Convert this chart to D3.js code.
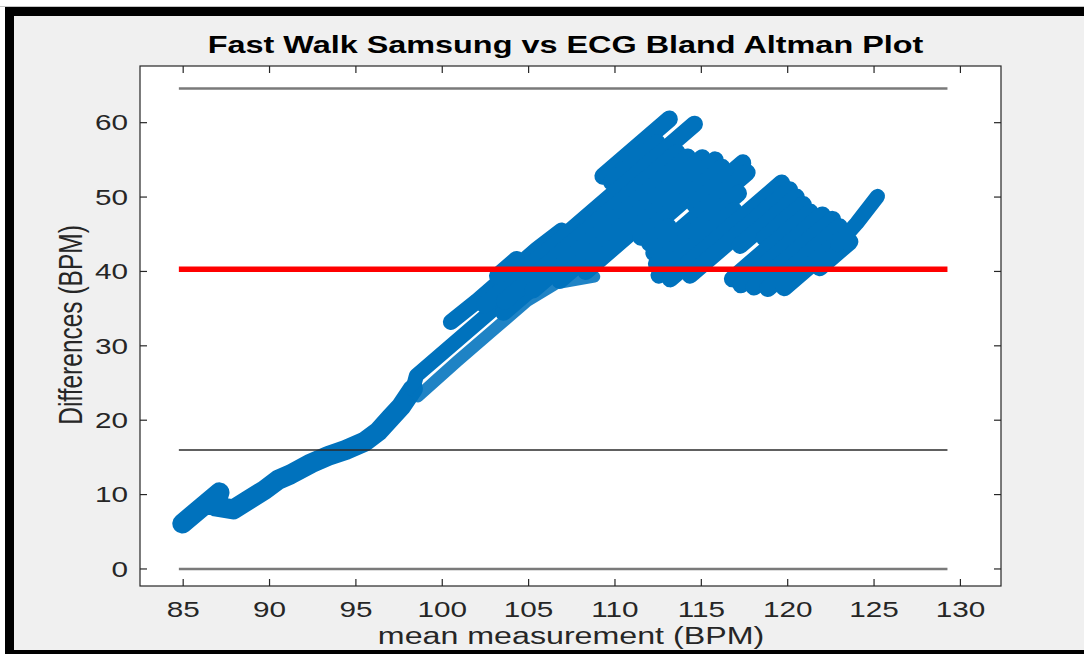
<!DOCTYPE html>
<html><head><meta charset="utf-8">
<script src="https://cdn.jsdelivr.net/npm/d3@7"></script>
<style>
body{margin:0;background:#fff;}
svg{display:block;}
text{font-family:"Liberation Sans",Arial,Helvetica,sans-serif;}
</style>
</head><body>
<svg id="c" width="1084" height="654"></svg>
<script>
// ---------- texts & ticks ----------
const titleText = "Fast Walk Samsung vs ECG Bland Altman Plot";
const xLabel = "mean measurement (BPM)";
const yLabel = "Differences (BPM)";
const xTicks = [85, 90, 95, 100, 105, 110, 115, 120, 125, 130];
const yTicks = [0, 10, 20, 30, 40, 50, 60];

// ---------- reference lines (BPM) ----------
const meanDiff = 40.3;
const lowerLoA = 16.0;
const upperLoA = 64.6;
const zeroLine = 0;
const refLineRange = [84.75, 129.25];

// ---------- scatter trace: [mean, difference] ----------
const lowerBand = [[84.95,6.1],[87.1,10.3],[86.85,8.4],[87.9,8.0],[88.8,9.3],[89.7,10.6],[90.5,12.0],[91.2,12.7],[92.4,14.2],[93.4,15.2],[94.4,16.0],[95.5,17.1],[96.3,18.5],[97.0,20.3],[97.6,21.8],[98.3,24.2]];
const upperBranchA = [[98.3,24.2],[98.5,26.0],[100.5,30.0],[102.5,34.0],[104.5,38.0],[106.3,42.0]];
const upperBranchB = [[100.5,33.2],[102.0,36.0],[103.9,39.8],[105.5,43.0],[106.9,45.5]];
const lowerBranch = [[98.6,23.2],[99.75,25.6],[100.9,28.0],[102.9,32.0],[104.9,36.0],[106.6,38.4],[108.8,39.3]];
const blobStrokes = [
  [[103.55,34.5],[106.3,40.0]],
  [[109.3,52.8],[113.15,60.5]],
  [[109.8,52.0],[112.45,57.3]],
  [[102.45,35.5],[114.6,59.8]],
  [[103.2,39.4],[104.3,41.6]],
  [[103.6,36.0],[113.6,56.0]],
  [[105.25,37.5],[114.2,55.4]],
  [[106.8,38.8],[115.05,55.3]],
  [[108.3,40.0],[115.8,55.0]],
  [[111.5,44.6],[116.2,54.0]],
  [[112.0,43.8],[113.1,46.0]],
  [[114.6,49.0],[117.4,54.6]],
  [[112.25,42.5],[117.65,53.3]],
  [[112.4,41.0],[117.15,50.5]],
  [[112.55,39.5],[116.9,48.2]],
  [[113.2,39.0],[119.65,51.9]],
  [[114.35,39.5],[120.1,51.0]],
  [[117.25,43.5],[120.5,50.0]],
  [[118.65,44.5],[120.9,49.0]],
  [[116.8,39.0],[121.3,48.0]],
  [[117.3,38.2],[122.0,47.6]],
  [[118.05,37.9],[122.6,47.0]],
  [[118.85,37.7],[123.0,46.0]],
  [[119.8,37.8],[123.4,45.0]],
  [[121.85,40.5],[123.6,44.0]]
];
const tail = [[122.9,43.6],[124.0,46.5],[125.2,50.1]];

// ---------- drawing ----------
const W = 1084, H = 654;
const svg = d3.select("#c");
const SX = 1.35; // horizontal stretch of the reference's glyphs

// frame
svg.append("rect").attr("width", W).attr("height", H).attr("fill", "#fff");
svg.append("rect").attr("x", 0).attr("y", 6).attr("width", W).attr("height", 1).attr("fill", "#c4c4c4");
svg.append("rect").attr("x", 5).attr("y", 7).attr("width", W - 5).attr("height", H - 7).attr("fill", "#000");
svg.append("rect").attr("x", 14).attr("y", 16).attr("width", W - 14).attr("height", 650 - 16).attr("fill", "#f0f0f0");

const plot = {l: 140, t: 66, r: 1001, b: 586};
const x = d3.scaleLinear().domain([82.5, 132.35]).range([plot.l, plot.r]);
const y = d3.scaleLinear().domain([-2.29, 67.62]).range([plot.b, plot.t]);

svg.append("rect").attr("x", plot.l).attr("y", plot.t)
  .attr("width", plot.r - plot.l).attr("height", plot.b - plot.t).attr("fill", "#fff");

svg.append("defs").append("clipPath").attr("id", "clip")
  .append("rect").attr("x", plot.l).attr("y", plot.t)
  .attr("width", plot.r - plot.l).attr("height", plot.b - plot.t);

const line = d3.line().x(d => x(d[0])).y(d => y(d[1]));
const dataG = svg.append("g").attr("clip-path", "url(#clip)")
  .attr("fill", "none").attr("stroke", "#0072BD")
  .attr("stroke-linecap", "round").attr("stroke-linejoin", "round");

dataG.append("path").datum(lowerBand).attr("d", line).style("stroke-width", "20px");
dataG.append("path").datum(upperBranchA).attr("d", line).style("stroke-width", "15px");
dataG.append("path").datum(upperBranchB).attr("d", line).style("stroke-width", "16px");
dataG.append("path").datum(lowerBranch).attr("d", line).style("stroke-width", "12px").style("stroke-opacity", 0.88);
dataG.selectAll("path.blob").data(blobStrokes).join("path").attr("class", "blob")
  .attr("d", line).style("stroke-width", "17px");
dataG.append("path").datum(tail).attr("d", line).style("stroke-width", "15px");

// reference lines
const refLines = [
  {v: upperLoA, c: "#7a7a7a", w: 2.5},
  {v: zeroLine, c: "#7a7a7a", w: 2.5},
  {v: lowerLoA, c: "#2b2b2b", w: 1.6},
  {v: meanDiff, c: "#ff0000", w: 5.5}
];
svg.append("g").selectAll("line").data(refLines).join("line")
  .attr("x1", x(refLineRange[0])).attr("x2", x(refLineRange[1]))
  .attr("y1", d => y(d.v)).attr("y2", d => y(d.v))
  .attr("stroke", d => d.c).attr("stroke-width", d => d.w);

// axes box and inward ticks
const axG = svg.append("g").attr("stroke", "#262626").attr("stroke-width", 1.2).attr("fill", "none");
axG.append("rect").attr("x", plot.l).attr("y", plot.t)
  .attr("width", plot.r - plot.l).attr("height", plot.b - plot.t);
const TL = 7;
axG.selectAll("line.xb").data(xTicks).join("line").attr("class", "xb")
  .attr("x1", d => x(d)).attr("x2", d => x(d)).attr("y1", plot.b).attr("y2", plot.b - TL);
axG.selectAll("line.xt").data(xTicks).join("line").attr("class", "xt")
  .attr("x1", d => x(d)).attr("x2", d => x(d)).attr("y1", plot.t).attr("y2", plot.t + TL);
axG.selectAll("line.yl").data(yTicks).join("line").attr("class", "yl")
  .attr("y1", d => y(d)).attr("y2", d => y(d)).attr("x1", plot.l).attr("x2", plot.l + TL);
axG.selectAll("line.yr").data(yTicks).join("line").attr("class", "yr")
  .attr("y1", d => y(d)).attr("y2", d => y(d)).attr("x1", plot.r).attr("x2", plot.r - TL);

// tick labels
svg.append("g").selectAll("text").data(xTicks).join("text")
  .attr("transform", d => `translate(${x(d)},617) scale(${SX},1)`)
  .attr("text-anchor", "middle").attr("font-size", 22).attr("fill", "#262626")
  .text(d => d);
svg.append("g").selectAll("text").data(yTicks).join("text")
  .attr("transform", d => `translate(128,${y(d) + 7.8}) scale(${SX},1)`)
  .attr("text-anchor", "end").attr("font-size", 22).attr("fill", "#262626")
  .text(d => d);

// title and axis labels
svg.append("text").attr("transform", `translate(565.5,53) scale(${SX},1)`)
  .attr("text-anchor", "middle").attr("font-size", 24).attr("font-weight", "bold")
  .attr("fill", "#000").text(titleText);
svg.append("text").attr("transform", `translate(571,643.5) scale(1.4,1)`)
  .attr("text-anchor", "middle").attr("font-size", 23).attr("fill", "#262626").text(xLabel);
svg.append("text").attr("transform", `translate(81.7,325) rotate(-90) scale(1,${SX})`)
  .attr("text-anchor", "middle").attr("font-size", 24.5).attr("fill", "#262626").text(yLabel);

// bottom frame bar drawn over the x label (as in the reference)
svg.append("rect").attr("x", 5).attr("y", 650).attr("width", W - 5).attr("height", 4).attr("fill", "#000");
</script>
</body></html>
